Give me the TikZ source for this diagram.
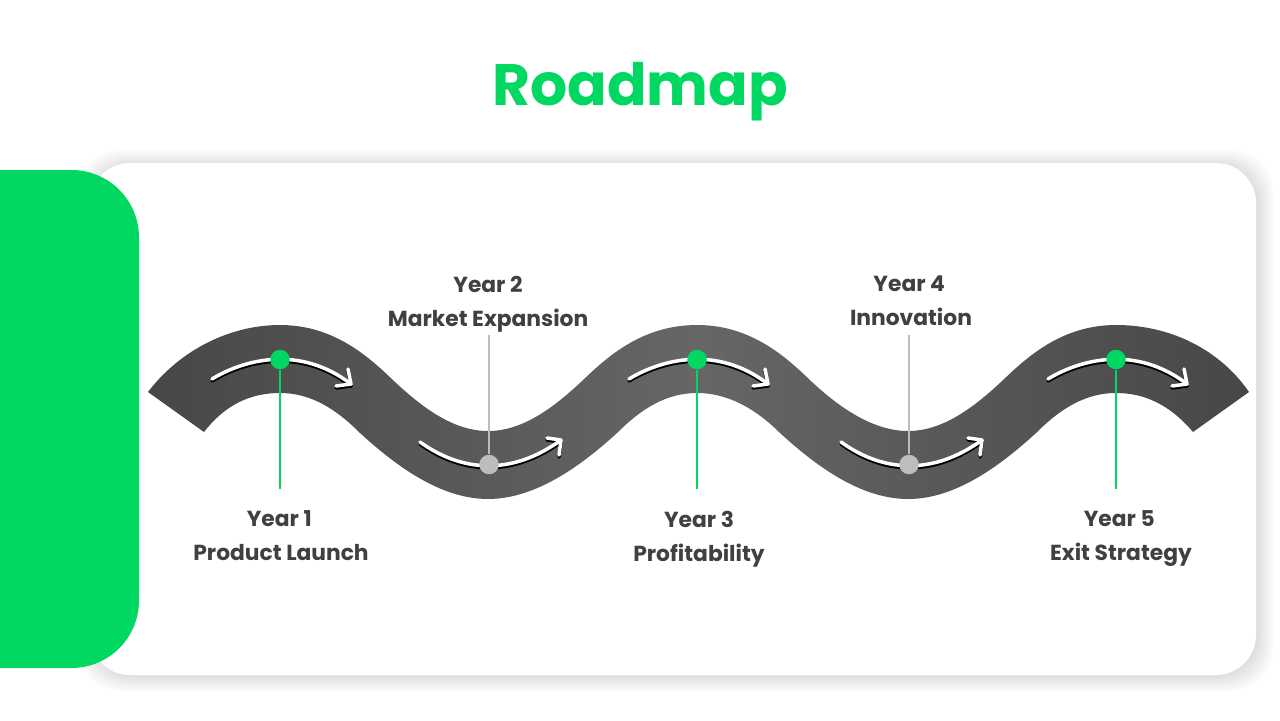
\documentclass[tikz,border=0pt]{standalone}
\usepackage{fontspec}
\setmainfont{Poppins}
\definecolor{roadgreen}{HTML}{00D862}
\definecolor{labelgray}{HTML}{404040}
\definecolor{stemgray}{HTML}{BDBDBD}
\definecolor{roaddark}{HTML}{474747}
\definecolor{roadlight}{HTML}{666666}
\tikzset{
	greendot/.style={circle,fill=roadgreen,inner sep=0pt,minimum size=.39cm},
	graydot/.style={circle,fill=stemgray,inner sep=0pt,minimum size=.39cm},
	greenstem/.style={roadgreen,line width=1.1pt},
	graystem/.style={stemgray,line width=1.1pt},
	yearlabel/.style={text=labelgray,align=center,font=\fontsize{12.4}{19.3}\selectfont\bfseries,
		execute at begin node=\strut,execute at end node=\strut},
	roadmark/.style={line width=2pt,line cap=round,line join=round}
}

\begin{document}
\begin{tikzpicture}[x=.02cm,y=-.02cm]
	\useasboundingbox (0,0) rectangle (1280,720);
	\foreach \g in {16,14,...,2}
		\fill[black,opacity=.014,rounded corners=.85cm] (90-\g+4,163-\g+3) rectangle (1256+\g+1,675+\g);
	\fill[white,rounded corners=.8cm] (90,163) rectangle (1256,675);
	\fill[roadgreen,rounded corners=1.35cm] (-70,170) rectangle (139,668);
	\draw (640,92) node[text=roadgreen,font=\fontsize{33.2}{40}\selectfont\bfseries] (title) {Roadmap};
	\shade[left color=roaddark,right color=roaddark,middle color=roadlight]
		(148,392) .. controls (180,350) and (230,325) .. (280,325)
		.. controls (335,325) and (370,358) .. (395,382) .. controls (425,410) and (455,431) .. (488,431)
		.. controls (521,431) and (551,410) .. (581,382) .. controls (606,358) and (641,325) .. (697,325)
		.. controls (752,325) and (787,358) .. (812,382) .. controls (842,410) and (875,431) .. (908,431)
		.. controls (941,431) and (971,410) .. (1001,382) .. controls (1026,358) and (1061,325) .. (1116,325)
		.. controls (1171,325) and (1220,350) .. (1249,392)
		-- (1193,432) .. controls (1170,405) and (1145,393) .. (1116,393)
		.. controls (1086,393) and (1061,408) .. (1036,433) .. controls (1001,465) and (956,499) .. (908,499)
		.. controls (860,499) and (815,465) .. (780,433) .. controls (755,408) and (727,393) .. (697,393)
		.. controls (667,393) and (642,408) .. (617,433) .. controls (582,465) and (536,499) .. (488,499)
		.. controls (440,499) and (395,465) .. (360,433) .. controls (335,408) and (310,393) .. (280,393)
		.. controls (250,393) and (225,405) .. (204,432) -- cycle;
	\foreach \c/\s in {black/2,white/0} {
		\foreach \x in {280,697,1116} {
			\draw[roadmark,\c] (\x-68,379+\s) .. controls (\x-35,359+\s) and (\x+20,345+\s) .. (\x+71,384+\s);
			\draw[roadmark,\c] (\x+68,369+\s) -- (\x+71,384+\s) -- (\x+56,386+\s);
		}
		\foreach \x in {488,909} {
			\draw[roadmark,\c] (\x-68,442+\s) .. controls (\x-25,473+\s) and (\x+25,475+\s) .. (\x+73,440+\s);
			\draw[roadmark,\c] (\x+59,438+\s) -- (\x+73,440+\s) -- (\x+71,455+\s);
		}
	}
	\draw (281,541) node[yearlabel] (yearA) {Year 1\kern2pt\\Product Launch};
	\draw (488,306) node[yearlabel] (yearB) {Year 2\\Market Expansion};
	\draw (699,541) node[yearlabel] (yearC) {Year 3\\Profitability};
	\draw (911,306) node[yearlabel] (yearD) {Year 4\kern2pt\\Innovation};
	\draw (1121,541) node[yearlabel] (yearE) {Year 5\kern2pt\\Exit Strategy};
	\draw (280,359.5) node[greendot] (dotA) {};
	\draw (489,464.5) node[graydot] (dotB) {};
	\draw (697,359.5) node[greendot] (dotC) {};
	\draw (909,464.5) node[graydot] (dotD) {};
	\draw (1116,359.5) node[greendot] (dotE) {};
	\coordinate (endA) at (280,489);
	\coordinate (endB) at (489,335);
	\coordinate (endC) at (697,489);
	\coordinate (endD) at (909,335);
	\coordinate (endE) at (1116,489);
	\draw[greenstem] (dotA) -- (endA);
	\draw[graystem] (dotB) -- (endB);
	\draw[greenstem] (dotC) -- (endC);
	\draw[graystem] (dotD) -- (endD);
	\draw[greenstem] (dotE) -- (endE);
\end{tikzpicture}
\end{document}
